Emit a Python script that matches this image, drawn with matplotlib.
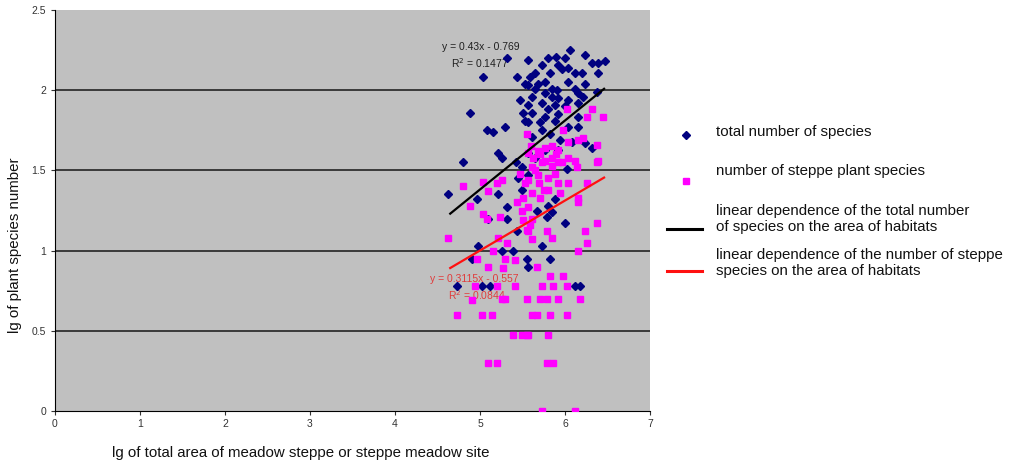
import matplotlib.pyplot as plt
from matplotlib.lines import Line2D
import numpy as np

plt.rcParams['font.family'] = ['Liberation Sans', 'DejaVu Sans']

# total number of species (lg area, lg species number)
total_x = [6.06, 6.24, 5.89, 5.56, 5.32, 5.80, 6.00, 6.32, 6.39, 6.47, 5.73, 5.92, 6.04,
           5.65, 5.82, 5.96, 6.12, 6.20, 6.39, 5.59, 5.76, 6.04, 6.24, 5.56, 5.68, 5.65,
           5.85, 5.91, 6.12, 6.15, 6.38, 5.61, 5.76, 5.85, 5.92, 6.04, 6.21, 5.56, 5.73,
           5.88, 6.00, 6.15, 5.61, 5.80, 5.92, 5.76, 5.56, 5.71, 5.88, 6.15, 6.04, 5.73,
           5.61, 5.82, 6.15, 5.94, 6.08, 6.24, 6.32, 5.92, 5.76, 5.56, 5.65,
           5.04, 4.88, 5.08, 5.15, 5.29, 5.21, 5.26, 4.80, 5.44, 5.53, 5.47, 5.51, 5.53,
           4.62, 4.96, 5.21, 5.32, 5.09, 5.32, 5.44, 4.98, 4.91, 5.39, 5.26,
           4.73, 5.02, 5.12, 6.12, 6.18,
           6.02, 5.56, 5.88, 5.80, 5.67, 5.85, 5.79, 6.00, 5.73, 5.55, 5.82, 5.56,
           5.45, 5.50, 5.42, 5.50]
total_y = [2.25, 2.22, 2.21, 2.19, 2.20, 2.20, 2.20, 2.17, 2.17, 2.18, 2.16, 2.16, 2.14,
           2.11, 2.11, 2.13, 2.11, 2.11, 2.11, 2.08, 2.05, 2.05, 2.04, 2.03, 2.04, 2.01,
           2.01, 2.00, 2.01, 1.98, 1.99, 1.96, 1.98, 1.96, 1.95, 1.94, 1.96, 1.91, 1.92,
           1.91, 1.90, 1.92, 1.86, 1.88, 1.85, 1.83, 1.80, 1.80, 1.81, 1.83, 1.77, 1.75,
           1.71, 1.73, 1.77, 1.69, 1.68, 1.67, 1.64, 1.63, 1.63, 1.61, 1.58,
           2.08, 1.86, 1.75, 1.74, 1.77, 1.61, 1.58, 1.55, 2.08, 2.04, 1.94, 1.86, 1.81,
           1.35, 1.32, 1.35, 1.27, 1.20, 1.20, 1.12, 1.03, 0.95, 1.00, 1.00,
           0.78, 0.78, 0.78, 0.78, 0.78,
           1.51, 1.47, 1.32, 1.28, 1.25, 1.24, 1.21, 1.17, 1.03, 0.95, 0.95, 0.90,
           1.45, 1.38, 1.55, 1.52]

# number of steppe plant species
steppe_x = [6.02, 6.26, 6.32, 6.45, 6.15, 6.21, 6.38, 5.98, 6.04, 5.55, 5.85, 5.76, 5.92,
            5.56, 5.62, 5.71, 5.85, 5.76, 6.04, 6.12, 5.92, 6.39,
            4.80, 5.04, 5.20, 5.09, 4.88, 5.04, 5.08, 5.24, 5.26, 5.47, 5.53, 5.51, 5.44,
            5.49, 5.51, 5.55, 4.62, 5.21, 5.32, 5.15, 5.29, 5.41, 4.96, 5.09, 5.27,
            5.61, 5.73, 5.85, 5.96, 6.14, 6.38, 5.56, 5.68, 5.80, 5.92, 6.04, 6.26, 5.80,
            5.61, 5.71, 5.94, 6.15, 6.15, 5.56, 5.61, 5.59, 5.56, 5.61, 5.79, 5.85, 6.38,
            6.24, 6.26, 6.15, 5.67, 5.82, 5.98,
            5.65, 5.70, 5.75, 5.88, 5.90, 5.60, 5.68,
            4.94, 5.20, 5.41, 4.91, 5.26, 5.29, 4.73, 5.02, 5.14, 5.39, 5.49, 5.56,
            5.73, 5.86, 6.02, 5.55, 5.71, 5.79, 5.92, 6.18, 5.61, 5.67, 5.82, 6.02,
            5.55, 5.80, 5.09, 5.20, 5.79, 5.86, 5.73, 6.12]
steppe_y = [1.88, 1.83, 1.88, 1.83, 1.69, 1.70, 1.66, 1.75, 1.68, 1.73, 1.65, 1.64, 1.63,
            1.61, 1.58, 1.60, 1.58, 1.56, 1.58, 1.56, 1.55, 1.56,
            1.40, 1.43, 1.42, 1.37, 1.28, 1.23, 1.20, 1.21, 1.44, 1.48, 1.42, 1.33, 1.30,
            1.25, 1.19, 1.13, 1.08, 1.08, 1.05, 1.00, 0.95, 0.94, 0.95, 0.90, 0.89,
            1.52, 1.55, 1.53, 1.55, 1.52, 1.55, 1.44, 1.47, 1.45, 1.42, 1.42, 1.42, 1.38,
            1.36, 1.33, 1.36, 1.33, 1.30, 1.27, 1.20, 1.16, 1.12, 1.07, 1.12, 1.08, 1.17,
            1.12, 1.05, 1.00, 0.90, 0.84, 0.84,
            1.50, 1.42, 1.38, 1.48, 1.60, 1.65, 1.62,
            0.78, 0.78, 0.78, 0.69, 0.70, 0.70, 0.60, 0.60, 0.60, 0.477, 0.477, 0.477,
            0.78, 0.78, 0.78, 0.70, 0.70, 0.70, 0.70, 0.70, 0.60, 0.60, 0.60, 0.60,
            0.477, 0.477, 0.30, 0.30, 0.30, 0.30, 0.0, 0.0]

# linear trends
total_fit = (0.43, -0.769)
steppe_fit = (0.3115, -0.557)
fit_range = [4.65, 6.46]

fig = plt.figure(figsize=(10.11, 4.66), dpi=100)
ax = fig.add_axes([0.0544, 0.118, 0.5885, 0.8605])
ax.set_facecolor('#c0c0c0')

for yv in [0.5, 1.0, 1.5, 2.0]:
    ax.axhline(yv, color='#3a3a3a', lw=1.4, zorder=1)

ax.plot(total_x, total_y, 'D', color='#000080', ms=4, mec='#000080', zorder=3)
ax.plot(steppe_x, steppe_y, 's', color='#ff00ff', ms=5, mec='#ff00ff', zorder=3)

xf = np.array(fit_range)
ax.plot(xf, total_fit[0] * xf + total_fit[1], color='black', lw=1.6, zorder=4)
ax.plot(xf, steppe_fit[0] * xf + steppe_fit[1], color='#ff1010', lw=1.6, zorder=4)

ax.text(5.01, 2.27, 'y = 0.43x - 0.769', fontsize=7.5, ha='center', va='center', color='#202020', zorder=2)
ax.text(5.0, 2.17, 'R$^2$ = 0.1477', fontsize=7.5, ha='center', va='center', color='#202020', zorder=2)
ax.text(4.41, 0.82, 'y = 0.3115x - 0.557', fontsize=7.5, ha='left', va='center', color='#e03c3c', zorder=2)
ax.text(4.62, 0.72, 'R$^2$ = 0.0844', fontsize=7.5, ha='left', va='center', color='#e03c3c', zorder=2)

ax.set_xlim(0, 7)
ax.set_ylim(0, 2.5)
ax.set_xticks(range(0, 8))
ax.set_yticks([0, 0.5, 1, 1.5, 2, 2.5])
ax.set_yticklabels(['0', '0.5', '1', '1.5', '2', '2.5'])
ax.tick_params(labelsize=7.5, colors='#333333', length=3, width=0.8)
ax.tick_params(axis='x', pad=3)
for s in ['top', 'right']:
    ax.spines[s].set_visible(False)
for s in ['left', 'bottom']:
    ax.spines[s].set_color('black')
    ax.spines[s].set_linewidth(0.8)

fs = 10.8
fig.text(0.015, 0.474, 'lg of plant species number', rotation=90, fontsize=fs,
         ha='center', va='center', color='#111111')
fig.text(0.111, 0.028, 'lg of total area of meadow steppe or steppe meadow site', fontsize=fs,
         ha='left', va='center', color='#111111')

# legend
fig.add_artist(Line2D([0.6786], [1 - 135 / 466], marker='D', color='#000080', ms=4, ls='none'))
fig.add_artist(Line2D([0.6786], [1 - 181 / 466], marker='s', color='#ff00ff', ms=5, ls='none'))
fig.add_artist(Line2D([0.660, 0.694], [1 - 229 / 466] * 2, color='black', lw=2.2))
fig.add_artist(Line2D([0.660, 0.694], [1 - 271 / 466] * 2, color='#ff1010', lw=2.2))
lx = 0.708
fig.text(lx, 1 - 132 / 466, 'total number of species', fontsize=fs, va='center', color='#111111')
fig.text(lx, 1 - 171 / 466, 'number of steppe plant species', fontsize=fs, va='center', color='#111111')
fig.text(lx, 1 - 211 / 466, 'linear dependence of the total number', fontsize=fs, va='center', color='#111111')
fig.text(lx, 1 - 227 / 466, 'of species on the area of habitats', fontsize=fs, va='center', color='#111111')
fig.text(lx, 1 - 255 / 466, 'linear dependence of the number of steppe', fontsize=fs, va='center', color='#111111')
fig.text(lx, 1 - 271 / 466, 'species on the area of habitats', fontsize=fs, va='center', color='#111111')

fig.savefig('out.png', dpi=100, facecolor='white')
